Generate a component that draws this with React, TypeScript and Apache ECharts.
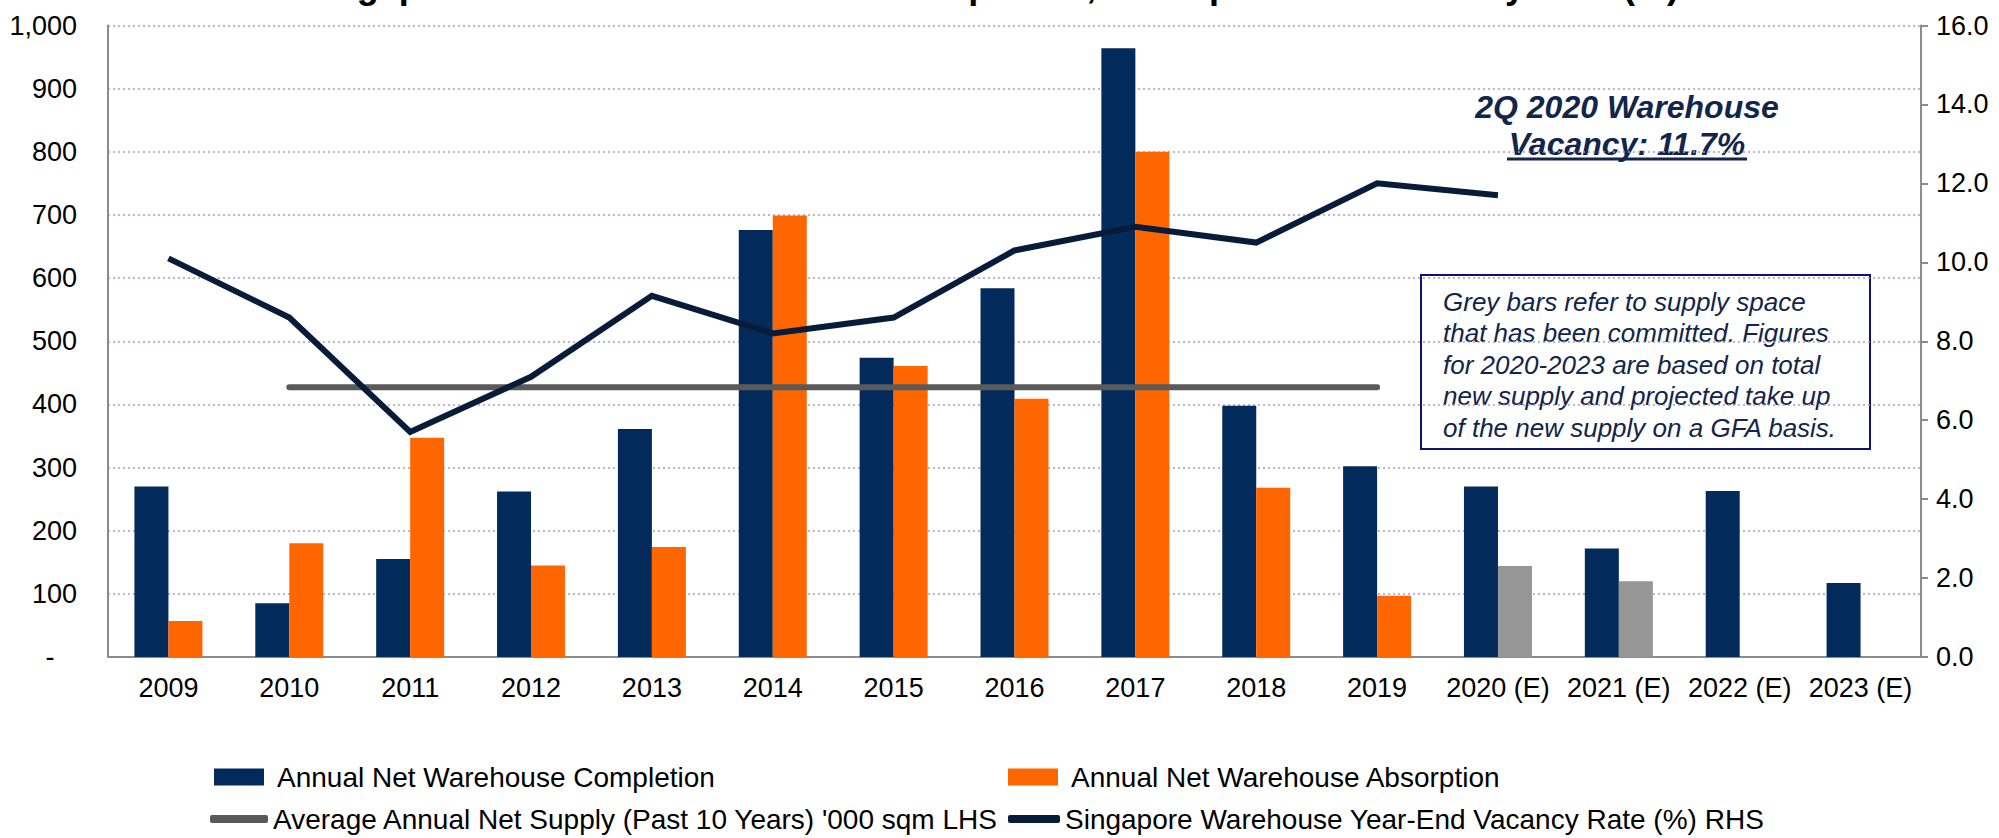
import React, { useEffect, useRef } from "react";
import * as echarts from "echarts";

const categories = ["2009", "2010", "2011", "2012", "2013", "2014", "2015", "2016", "2017", "2018", "2019", "2020 (E)", "2021 (E)", "2022 (E)", "2023 (E)"];
const completion = [270, 85, 155, 262, 361, 676, 474, 584, 964, 398, 302, 270, 172, 263, 117];
const absorption = [57, 180, 347, 145, 174, 699, 461, 409, 800, 268, 97, null, null, null, null];
const committed = [null, null, null, null, null, null, null, null, null, null, null, 144, 120, null, null];
const avgSupply = [null, 427, 427, 427, 427, 427, 427, 427, 427, 427, 427, null, null, null, null];
const vacancy = [10.1, 8.6, 5.7, 7.1, 9.15, 8.2, 8.6, 10.3, 10.9, 10.5, 12.0, 11.7, null, null, null];
const leftTicks = { min: 0, max: 1000, interval: 100 };
const rightTicks = { min: 0, max: 16, interval: 2 };

const NAMES = {
  completion: "Annual Net Warehouse Completion",
  absorption: "Annual Net Warehouse Absorption",
  avg: "Average Annual Net Supply (Past 10 Years) '000 sqm LHS",
  vacancy: "Singapore Warehouse Year-End Vacancy Rate (%) RHS",
};

const FONT = "'Liberation Sans', Arial, sans-serif";
const NAVY = "#022b5c";
const ORANGE = "#ff6600";
const GREY_BAR = "#969696";
const LINE_NAVY = "#081c3a";
const AVG_GREY = "#5a5a5a";
const TEXT_NAVY = "#12254a";

export default function App() {
  const ref = useRef<HTMLDivElement>(null);
  useEffect(() => {
    if (!ref.current) return;
    const chart = echarts.init(ref.current, null, { renderer: "svg" });
    const absData = absorption.map((v, i) =>
      committed[i] != null ? { value: committed[i], itemStyle: { color: GREY_BAR } } : v
    );
    const legendBase = {
      orient: "horizontal",
      padding: 0,
      textStyle: { fontSize: 28, color: "#000", fontFamily: FONT, padding: [0, 0, 0, 8] },
    };
    chart.setOption({
      animation: false,
      backgroundColor: "#fff",
      textStyle: { fontFamily: FONT },
      grid: { left: 108, right: 78, top: 25.5, bottom: 181, containLabel: false, outerBoundsMode: "none" },
      legend: [
        { ...legendBase, data: [NAMES.completion], left: 214, top: 763, itemWidth: 50, itemHeight: 17, icon: "rect" },
        { ...legendBase, data: [NAMES.absorption], left: 1008, top: 763, itemWidth: 50, itemHeight: 17, icon: "rect" },
        { ...legendBase, data: [NAMES.avg], left: 210, top: 805, itemWidth: 58, itemHeight: 8, icon: "roundRect", textStyle: { ...legendBase.textStyle, padding: [0, 0, 0, 0] } },
        { ...legendBase, data: [NAMES.vacancy], left: 1008, top: 805, itemWidth: 52, itemHeight: 8, icon: "roundRect", textStyle: { ...legendBase.textStyle, padding: [0, 0, 0, 0] } },
      ],
      xAxis: {
        type: "category",
        data: categories,
        axisLine: { lineStyle: { color: "#8c8c8c", width: 2 } },
        axisTick: { show: false },
        axisLabel: { fontSize: 27, color: "#000", margin: 17, interval: 0, fontFamily: FONT },
      },
      yAxis: [
        {
          type: "value",
          min: leftTicks.min,
          max: leftTicks.max,
          interval: leftTicks.interval,
          axisLine: { show: true, lineStyle: { color: "#8c8c8c", width: 2 } },
          axisTick: { show: false },
          axisLabel: {
            fontSize: 27,
            color: "#000",
            margin: 31,
            fontFamily: FONT,
            formatter: (v: number) => (v === 0 ? "-   " : v.toLocaleString("en-US")),
          },
          splitLine: { show: true, lineStyle: { color: "#a99bcc", type: [2, 3], width: 1.5 } },
        },
        {
          type: "value",
          position: "right",
          min: rightTicks.min,
          max: rightTicks.max,
          interval: rightTicks.interval,
          axisLine: { show: true, lineStyle: { color: "#8c8c8c", width: 2 } },
          axisTick: { show: true, length: 7, lineStyle: { color: "#8c8c8c", width: 2 } },
          axisLabel: {
            fontSize: 27,
            color: "#000",
            margin: 15,
            fontFamily: FONT,
            formatter: (v: number) => v.toFixed(1),
          },
          splitLine: { show: false },
        },
      ],
      series: [
        {
          name: NAMES.completion,
          type: "bar",
          data: completion,
          barWidth: 34,
          barGap: "0%",
          itemStyle: { color: NAVY },
          z: 2,
        },
        {
          name: NAMES.absorption,
          type: "bar",
          data: absData,
          barWidth: 34,
          barGap: "0%",
          itemStyle: { color: ORANGE },
          z: 2,
        },
        {
          name: NAMES.avg,
          type: "line",
          data: avgSupply,
          symbol: "none",
          lineStyle: { color: AVG_GREY, width: 6, cap: "round" },
          itemStyle: { color: AVG_GREY },
          z: 3,
        },
        {
          name: NAMES.vacancy,
          type: "line",
          yAxisIndex: 1,
          data: vacancy,
          symbol: "none",
          lineStyle: { color: LINE_NAVY, width: 6, join: "miter" },
          itemStyle: { color: LINE_NAVY },
          z: 4,
        },
      ],
      graphic: [
        {
          type: "text",
          x: 1679,
          y: -15,
          style: {
            text: "Singapore Warehouse Annual Net Completion, Absorption and Vacancy Rate (%)",
            fontSize: 36,
            fontWeight: "bold",
            fontFamily: FONT,
            fill: "#000",
            align: "right",
            verticalAlign: "middle",
          },
        },
        {
          type: "text",
          x: 1627,
          y: 107,
          style: {
            text: "2Q 2020 Warehouse",
            fontSize: 32,
            fontWeight: "bold",
            fontStyle: "italic",
            fontFamily: FONT,
            fill: TEXT_NAVY,
            align: "center",
            verticalAlign: "middle",
          },
        },
        {
          type: "text",
          x: 1627,
          y: 144,
          style: {
            text: "Vacancy: 11.7%",
            fontSize: 32,
            fontWeight: "bold",
            fontStyle: "italic",
            fontFamily: FONT,
            fill: TEXT_NAVY,
            align: "center",
            verticalAlign: "middle",
          },
        },
        {
          type: "line",
          shape: { x1: 1507, y1: 159, x2: 1747, y2: 159 },
          style: { stroke: TEXT_NAVY, lineWidth: 3 },
        },
        {
          type: "rect",
          shape: { x: 1421, y: 275, width: 449, height: 174 },
          style: { fill: "none", stroke: "#10107a", lineWidth: 2 },
        },
        {
          type: "text",
          x: 1443,
          y: 286,
          style: {
            text: "Grey bars refer to supply space\nthat has been committed. Figures\nfor 2020-2023 are based on total\nnew supply and projected take up\nof the new supply on a GFA basis.",
            fontSize: 26,
            fontStyle: "italic",
            fontFamily: FONT,
            fill: TEXT_NAVY,
            lineHeight: 31.5,
            align: "left",
            verticalAlign: "top",
          },
        },
      ],
    });
    return () => chart.dispose();
  }, []);
  return <div ref={ref} style={{ position: "fixed", left: 0, top: 0, width: 1999, height: 838 }} />;
}
